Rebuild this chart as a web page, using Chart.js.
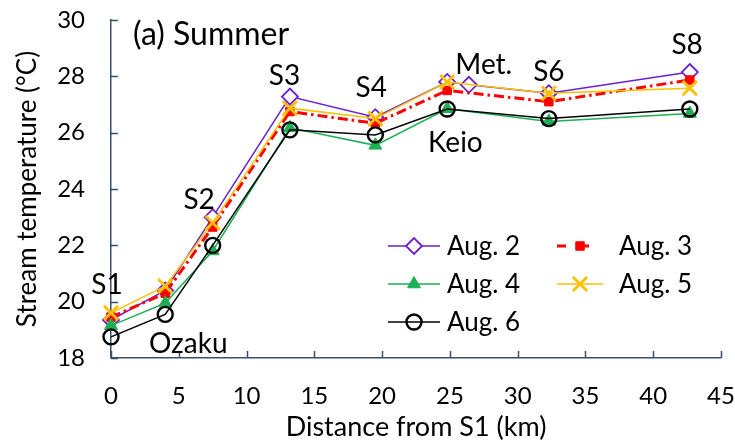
<!DOCTYPE html>
<html><head><meta charset="utf-8">
<script src="https://cdn.jsdelivr.net/npm/chart.js@4"></script>
<style>html,body{margin:0;padding:0;background:#fff}#wrap{width:735px;height:445px}</style>
</head><body><div id="wrap"><canvas id="c" width="735" height="445"></canvas></div>
<script>
// ---- data ----
const siteKm   = [0, 4, 7.5, 13.2, 19.5, 24.8, 32.3, 42.7];
const aug2Km   = [0, 4, 7.5, 13.2, 19.5, 24.8, 26.4, 32.3, 42.7];
const aug2 = [19.35, 20.4, 23.0, 27.28, 26.55, 27.8, 27.7, 27.4, 28.15];
const aug3 = [19.45, 20.3, 22.65, 26.75, 26.33, 27.5, 27.1, 27.87];
const aug4 = [19.15, 19.95, 21.8, 26.17, 25.55, 26.85, 26.4, 26.68];
const aug5 = [19.6, 20.55, 22.8, 26.87, 26.5, 27.8, 27.4, 27.58];
const aug6 = [18.75, 19.55, 22.0, 26.1, 25.92, 26.84, 26.5, 26.84];
const seriesNames = ['Aug. 2', 'Aug. 3', 'Aug. 4', 'Aug. 5', 'Aug. 6'];
const xTicks = [0, 5, 10, 15, 20, 25, 30, 35, 40, 45];
const yTicks = [18, 20, 22, 24, 26, 28, 30];
const siteLabels = [
  {t:'S1', x:-0.3, y:20.6}, {t:'Ozaku', x:5.7, y:18.5}, {t:'S2', x:6.5, y:23.6},
  {t:'S3', x:12.8, y:28.0}, {t:'S4', x:19.2, y:27.6}, {t:'Met.', x:27.5, y:28.4},
  {t:'S6', x:32.3, y:28.15}, {t:'S8', x:42.5, y:29.1}, {t:'Keio', x:25.4, y:25.65}
];
// ---- end data ----

const FONT = 'Lato, "Open Sans", sans-serif';
const AXIS = '#3b4f6e';
const pts = (xs, ys) => ys.map((v, i) => ({x: xs[i], y: v}));

const styles = [
  {color:'#6B1FD1', style:'rectRot', r:8, fill:'#ffffff', bw:1.8, lw:1.5, dash:[]},
  {color:'#FF0000', style:'rect', r:6, fill:'#FF0000', bw:1, lw:3, dash:[10,4,2.5,4]},
  {color:'#1DAF55', style:'triangle', r:7.5, fill:'#1DAF55', bw:1, lw:1.5, dash:[]},
  {color:'#FFC000', style:'crossRot', r:10, fill:'#FFC000', bw:2.8, lw:1.5, dash:[]},
  {color:'#000000', style:'circle', r:7.5, fill:'rgba(0,0,0,0)', bw:2.4, lw:1.5, dash:[]}
];
const dataSets = [pts(aug2Km, aug2), pts(siteKm, aug3), pts(siteKm, aug4), pts(siteKm, aug5), pts(siteKm, aug6)];

const datasets = dataSets.map((d, i) => ({
  label: seriesNames[i], data: d,
  borderColor: styles[i].color, borderWidth: styles[i].lw, borderDash: styles[i].dash,
  pointStyle: styles[i].style, pointRadius: styles[i].r, pointHoverRadius: styles[i].r, pointBorderColor: styles[i].color,
  pointBackgroundColor: styles[i].fill, pointBorderWidth: styles[i].bw,
  fill: false, tension: 0, clip: false, order: 10 - i
}));

const overlay = {
  id: 'overlay',
  afterDraw(chart) {
    const ctx = chart.ctx, xs = chart.scales.x, ys = chart.scales.y, a = chart.chartArea;
    ctx.save();
    ctx.strokeStyle = AXIS; ctx.lineWidth = 1.5;
    ctx.beginPath();
    xTicks.forEach(v => { const px = Math.round(xs.getPixelForValue(v)) + 0.5; ctx.moveTo(px, a.bottom); ctx.lineTo(px, a.bottom - 7); });
    yTicks.forEach(v => { const py = Math.round(ys.getPixelForValue(v)) + 0.5; ctx.moveTo(a.left, py); ctx.lineTo(a.left + 7, py); });
    ctx.stroke();
    ctx.fillStyle = '#000'; ctx.textAlign = 'center'; ctx.textBaseline = 'middle';
    ctx.font = '28px ' + FONT;
    siteLabels.forEach(l => ctx.fillText(l.t, xs.getPixelForValue(l.x), ys.getPixelForValue(l.y)));
    ctx.font = '32px ' + FONT; ctx.textAlign = 'left';
    ctx.fillText('(a) Summer', 133, 35);
    const rowY = [246, 284, 322];
    const cols = [{l0:388, l1:440, m:414, t:447}, {l0:557, l1:603, m:580, t:619}];
    ctx.font = '26px ' + FONT;
    datasets.forEach((ds, i) => {
      const c = cols[i % 2], y = rowY[Math.floor(i / 2)];
      ctx.strokeStyle = ds.borderColor; ctx.lineWidth = ds.borderWidth; ctx.setLineDash(i === 1 ? [9, 14] : []);
      ctx.beginPath(); ctx.moveTo(c.l0, y); ctx.lineTo(c.l1, y); ctx.stroke();
      ctx.setLineDash([]);
      ctx.fillStyle = ds.pointBackgroundColor; ctx.strokeStyle = ds.pointBorderColor; ctx.lineWidth = ds.pointBorderWidth;
      Chart.helpers.drawPoint(ctx, {pointStyle: ds.pointStyle, radius: ds.pointRadius, borderWidth: ds.pointBorderWidth, rotation: 0}, c.m, y);
      ctx.fillStyle = '#000'; ctx.textAlign = 'left'; ctx.textBaseline = 'middle';
      ctx.fillText(ds.label, c.t, y + 1);
    });
    ctx.restore();
  }
};

new Chart(document.getElementById('c'), {
  type: 'line',
  data: { datasets },
  options: {
    responsive: false, animation: false, devicePixelRatio: 1,
    layout: { padding: { left: 0, right: 14, top: 20, bottom: 0 } },
    plugins: { legend: { display: false }, tooltip: { enabled: false } },
    scales: {
      x: {
        type: 'linear', min: 0, max: 45,
        afterBuildTicks: s => { s.ticks = xTicks.map(v => ({value: v})); },
        afterFit: s => { s.height = 87; },
        grid: { display: true, drawOnChartArea: false, drawTicks: true, tickLength: 24, tickColor: 'rgba(0,0,0,0)', lineWidth: 0 },
        border: { display: true, color: AXIS, width: 1.5 },
        ticks: { padding: 0, color: '#000', font: { family: FONT, size: 24 }, maxRotation: 0 },
        title: { display: true, text: 'Distance from S1 (km)', color: '#000', font: { family: FONT, size: 27 }, padding: { top: 0, bottom: 2 } }
      },
      y: {
        type: 'linear', min: 18, max: 30,
        afterBuildTicks: s => { s.ticks = yTicks.map(v => ({value: v})); },
        afterFit: s => { s.width = 111; },
        grid: { display: true, drawOnChartArea: false, drawTicks: true, tickLength: 26, tickColor: 'rgba(0,0,0,0)', lineWidth: 0 },
        border: { display: true, color: AXIS, width: 1.5 },
        ticks: { padding: 0, color: '#000', font: { family: FONT, size: 24 } },
        title: { display: true, text: 'Stream temperature (°C)', color: '#000', font: { family: FONT, size: 26 }, padding: { top: 12, bottom: 0 } }
      }
    }
  },
  plugins: [overlay]
});
</script>
</body></html>
